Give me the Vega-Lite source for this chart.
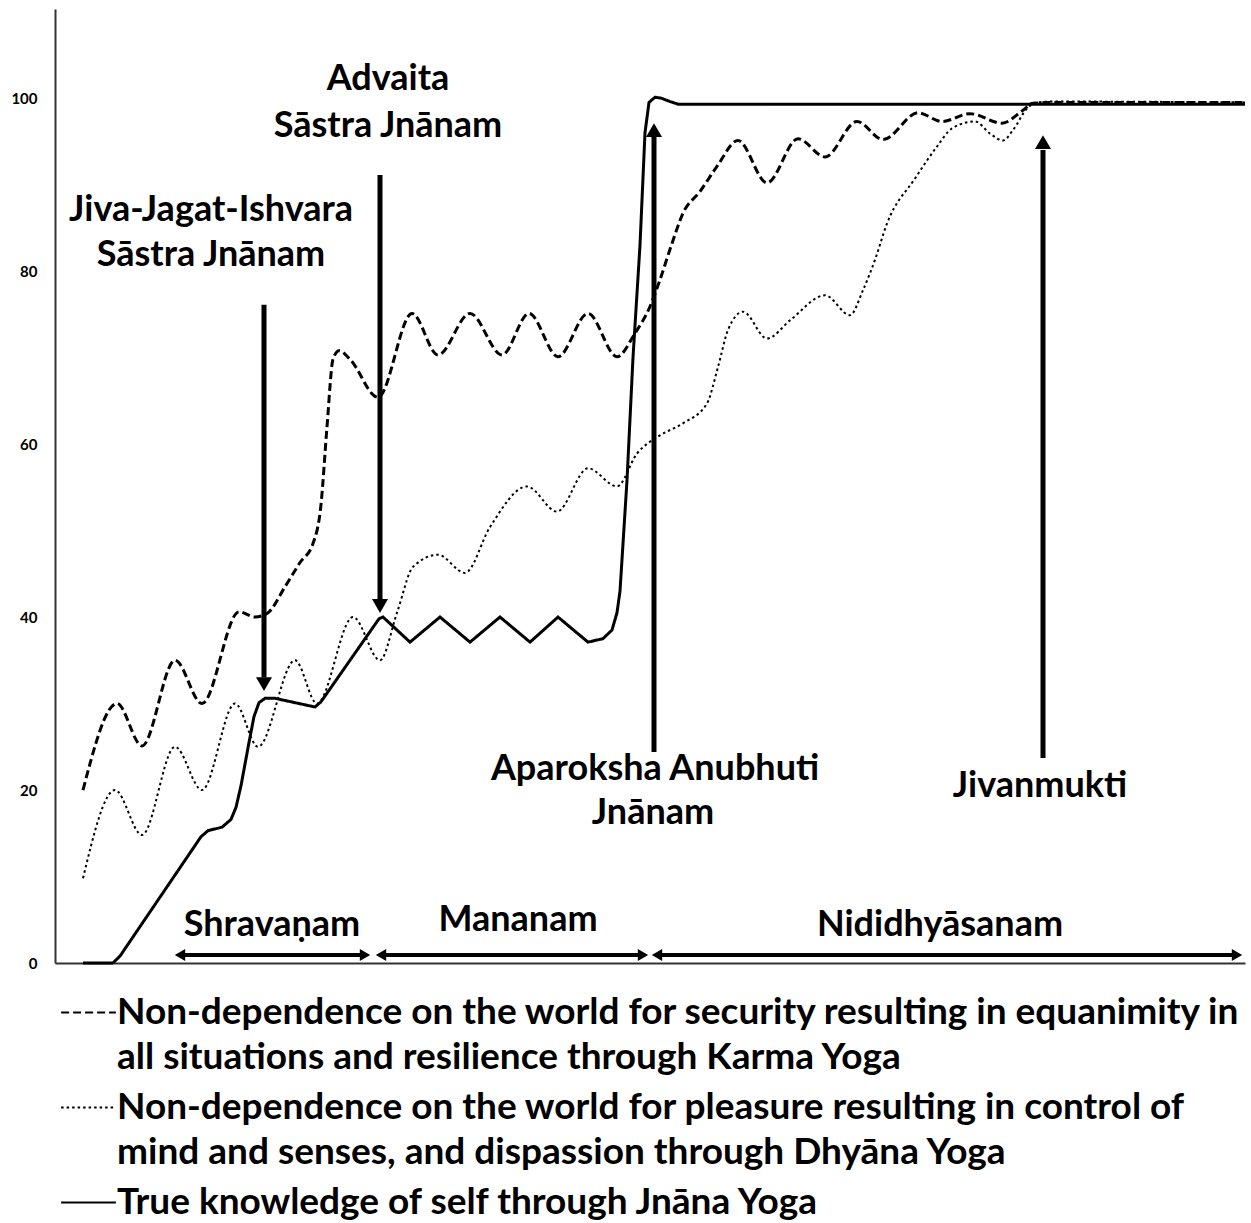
{
  "$schema": "https://vega.github.io/schema/vega-lite/v6.json",
  "autosize": "none",
  "width": 1190,
  "height": 954,
  "padding": {"left": 55, "top": 9, "right": 6, "bottom": 260},
  "background": "white",
  "config": {
    "view": {"stroke": null},
    "axisY": {"domainColor": "#333", "domainWidth": 2, "ticks": false, "grid": false, "labelFont": "Lato", "labelFontSize": 15, "labelFontWeight": "bold", "labelColor": "black", "labelPadding": 18, "title": null},
    "axisX": {"domainColor": "#333", "domainWidth": 2, "ticks": false, "grid": false, "labels": false, "title": null}
  },
  "datasets": {
    "curves": [
      {"series": "Karma", "x": 2.8, "y": 20},
      {"series": "Karma", "x": 6.2, "y": 30},
      {"series": "Karma", "x": 8.7, "y": 25.1},
      {"series": "Karma", "x": 12.0, "y": 35},
      {"series": "Karma", "x": 14.7, "y": 30},
      {"series": "Karma", "x": 18.4, "y": 40.6},
      {"series": "Karma", "x": 20.0, "y": 40.0},
      {"series": "Karma", "x": 21.2, "y": 40.4},
      {"series": "Karma", "x": 23.0, "y": 43.5},
      {"series": "Karma", "x": 24.5, "y": 46.3},
      {"series": "Karma", "x": 25.8, "y": 48.5},
      {"series": "Karma", "x": 26.6, "y": 53},
      {"series": "Karma", "x": 27.2, "y": 62},
      {"series": "Karma", "x": 27.8, "y": 69.8},
      {"series": "Karma", "x": 28.4, "y": 70.8},
      {"series": "Karma", "x": 29.5, "y": 69.8},
      {"series": "Karma", "x": 32.3, "y": 65.4},
      {"series": "Karma", "x": 35.7, "y": 75.1},
      {"series": "Karma", "x": 38.3, "y": 70.3},
      {"series": "Karma", "x": 41.5, "y": 75.1},
      {"series": "Karma", "x": 44.7, "y": 70.3},
      {"series": "Karma", "x": 47.4, "y": 75.1},
      {"series": "Karma", "x": 50.3, "y": 70.1},
      {"series": "Karma", "x": 53.3, "y": 75.1},
      {"series": "Karma", "x": 56.2, "y": 70.1},
      {"series": "Karma", "x": 58.0, "y": 72.8},
      {"series": "Karma", "x": 59.5, "y": 75.9},
      {"series": "Karma", "x": 60.5, "y": 79.0},
      {"series": "Karma", "x": 61.7, "y": 83.2},
      {"series": "Karma", "x": 62.8, "y": 86.7},
      {"series": "Karma", "x": 64.5, "y": 89.2},
      {"series": "Karma", "x": 66.2, "y": 92.1},
      {"series": "Karma", "x": 68.3, "y": 95.1},
      {"series": "Karma", "x": 71.2, "y": 90.2},
      {"series": "Karma", "x": 74.3, "y": 95.3},
      {"series": "Karma", "x": 77.0, "y": 93.2},
      {"series": "Karma", "x": 80.2, "y": 97.3},
      {"series": "Karma", "x": 82.8, "y": 95.2},
      {"series": "Karma", "x": 86.3, "y": 98.3},
      {"series": "Karma", "x": 88.7, "y": 97.3},
      {"series": "Karma", "x": 91.5, "y": 98.2},
      {"series": "Karma", "x": 94.7, "y": 97.1},
      {"series": "Karma", "x": 96.8, "y": 98.6},
      {"series": "Karma", "x": 97.8, "y": 99.4},
      {"series": "Karma", "x": 100, "y": 99.5},
      {"series": "Karma", "x": 119, "y": 99.5},
      {"series": "Dhyana", "x": 2.8, "y": 9.8},
      {"series": "Dhyana", "x": 6.0, "y": 20},
      {"series": "Dhyana", "x": 8.7, "y": 14.8},
      {"series": "Dhyana", "x": 12.0, "y": 25},
      {"series": "Dhyana", "x": 14.7, "y": 20},
      {"series": "Dhyana", "x": 18.0, "y": 30},
      {"series": "Dhyana", "x": 20.3, "y": 25},
      {"series": "Dhyana", "x": 24.0, "y": 35},
      {"series": "Dhyana", "x": 26.2, "y": 30},
      {"series": "Dhyana", "x": 29.8, "y": 40},
      {"series": "Dhyana", "x": 32.5, "y": 35},
      {"series": "Dhyana", "x": 34.2, "y": 40.5},
      {"series": "Dhyana", "x": 35.8, "y": 45.8},
      {"series": "Dhyana", "x": 38.3, "y": 47.2},
      {"series": "Dhyana", "x": 41.0, "y": 45.1},
      {"series": "Dhyana", "x": 43.5, "y": 50.4},
      {"series": "Dhyana", "x": 47.2, "y": 55.1},
      {"series": "Dhyana", "x": 50.2, "y": 52.2},
      {"series": "Dhyana", "x": 53.3, "y": 57.2},
      {"series": "Dhyana", "x": 56.2, "y": 55.1},
      {"series": "Dhyana", "x": 58.2, "y": 58.9},
      {"series": "Dhyana", "x": 60.5, "y": 61.0},
      {"series": "Dhyana", "x": 62.8, "y": 62.4},
      {"series": "Dhyana", "x": 65.2, "y": 64.7},
      {"series": "Dhyana", "x": 66.3, "y": 68.9},
      {"series": "Dhyana", "x": 67.3, "y": 73.2},
      {"series": "Dhyana", "x": 68.8, "y": 75.3},
      {"series": "Dhyana", "x": 71.2, "y": 72.2},
      {"series": "Dhyana", "x": 73.5, "y": 74.3},
      {"series": "Dhyana", "x": 77.0, "y": 77.2},
      {"series": "Dhyana", "x": 79.5, "y": 74.9},
      {"series": "Dhyana", "x": 80.8, "y": 77.8},
      {"series": "Dhyana", "x": 82.0, "y": 81.3},
      {"series": "Dhyana", "x": 83.2, "y": 85.5},
      {"series": "Dhyana", "x": 86.0, "y": 90.7},
      {"series": "Dhyana", "x": 88.2, "y": 94.4},
      {"series": "Dhyana", "x": 89.7, "y": 96.5},
      {"series": "Dhyana", "x": 92.0, "y": 97.3},
      {"series": "Dhyana", "x": 93.5, "y": 95.9},
      {"series": "Dhyana", "x": 94.8, "y": 95.1},
      {"series": "Dhyana", "x": 95.8, "y": 96.3},
      {"series": "Dhyana", "x": 97.2, "y": 98.8},
      {"series": "Dhyana", "x": 98.2, "y": 99.5},
      {"series": "Dhyana", "x": 100, "y": 99.6},
      {"series": "Dhyana", "x": 119, "y": 99.5},
      {"series": "Jnana", "x": 2.8, "y": 0},
      {"series": "Jnana", "x": 5.8, "y": 0},
      {"series": "Jnana", "x": 6.5, "y": 0.8},
      {"series": "Jnana", "x": 14.6, "y": 14.6},
      {"series": "Jnana", "x": 15.3, "y": 15.3},
      {"series": "Jnana", "x": 16.7, "y": 15.7},
      {"series": "Jnana", "x": 17.6, "y": 16.6},
      {"series": "Jnana", "x": 18.1, "y": 18},
      {"series": "Jnana", "x": 18.6, "y": 20.5},
      {"series": "Jnana", "x": 19.4, "y": 25.5},
      {"series": "Jnana", "x": 19.9, "y": 28.5},
      {"series": "Jnana", "x": 20.4, "y": 30.1},
      {"series": "Jnana", "x": 21.0, "y": 30.6},
      {"series": "Jnana", "x": 22.0, "y": 30.6},
      {"series": "Jnana", "x": 26.0, "y": 29.6},
      {"series": "Jnana", "x": 26.6, "y": 30.2},
      {"series": "Jnana", "x": 32.4, "y": 39.8},
      {"series": "Jnana", "x": 32.8, "y": 40.0},
      {"series": "Jnana", "x": 35.5, "y": 37.1},
      {"series": "Jnana", "x": 38.5, "y": 40},
      {"series": "Jnana", "x": 41.5, "y": 37.1},
      {"series": "Jnana", "x": 44.5, "y": 40},
      {"series": "Jnana", "x": 47.5, "y": 37.1},
      {"series": "Jnana", "x": 50.3, "y": 40},
      {"series": "Jnana", "x": 53.3, "y": 37.1},
      {"series": "Jnana", "x": 54.8, "y": 37.5},
      {"series": "Jnana", "x": 55.7, "y": 38.5},
      {"series": "Jnana", "x": 56.2, "y": 40.5},
      {"series": "Jnana", "x": 56.5, "y": 43},
      {"series": "Jnana", "x": 57.2, "y": 55.8},
      {"series": "Jnana", "x": 57.8, "y": 70},
      {"series": "Jnana", "x": 58.5, "y": 83},
      {"series": "Jnana", "x": 59.0, "y": 96},
      {"series": "Jnana", "x": 59.4, "y": 99.5},
      {"series": "Jnana", "x": 60.0, "y": 100.1},
      {"series": "Jnana", "x": 60.6, "y": 100.0},
      {"series": "Jnana", "x": 61.5, "y": 99.6},
      {"series": "Jnana", "x": 62.3, "y": 99.3},
      {"series": "Jnana", "x": 119, "y": 99.3}
    ],
    "arrows": [
      {"kind": "v", "x": 20.9, "y": 76.1, "x2": 20.9, "y2": 33.0},
      {"kind": "v", "x": 32.5, "y": 91.1, "x2": 32.5, "y2": 42.0},
      {"kind": "v", "x": 59.9, "y": 24.4, "x2": 59.9, "y2": 95.5},
      {"kind": "v", "x": 98.8, "y": 23.7, "x2": 98.8, "y2": 94.0},
      {"kind": "h", "x": 12.5, "y": 0.92, "x2": 31.0, "y2": 0.92},
      {"kind": "h", "x": 32.6, "y": 0.92, "x2": 58.8, "y2": 0.92},
      {"kind": "h", "x": 60.2, "y": 0.92, "x2": 118.2, "y2": 0.92}
    ],
    "heads": [
      {"kind": "v", "dir": "down", "x": 20.9, "y": 32.25},
      {"kind": "v", "dir": "down", "x": 32.5, "y": 41.27},
      {"kind": "v", "dir": "up", "x": 59.9, "y": 96.3},
      {"kind": "v", "dir": "up", "x": 98.8, "y": 94.9},
      {"kind": "h", "dir": "left", "x": 12.5, "y": 0.92},
      {"kind": "h", "dir": "right", "x": 31.0, "y": 0.92},
      {"kind": "h", "dir": "left", "x": 32.6, "y": 0.92},
      {"kind": "h", "dir": "right", "x": 58.8, "y": 0.92},
      {"kind": "h", "dir": "left", "x": 60.2, "y": 0.92},
      {"kind": "h", "dir": "right", "x": 118.2, "y": 0.92}
    ],
    "notes": [
      {"x": 15.6, "y": 85.8, "text": "Jiva-Jagat-Ishvara"},
      {"x": 15.6, "y": 80.6, "text": "Sāstra Jnānam"},
      {"x": 33.3, "y": 100.9, "text": "Advaita"},
      {"x": 33.3, "y": 95.5, "text": "Sāstra Jnānam"},
      {"x": 60.0, "y": 21.2, "text": "Aparoksha Anubhuti"},
      {"x": 59.8, "y": 16.1, "text": "Jnānam"},
      {"x": 98.5, "y": 19.2, "text": "Jivanmukti"},
      {"x": 21.7, "y": 3.1, "text": "Shravaṇam"},
      {"x": 46.3, "y": 3.7, "text": "Mananam"},
      {"x": 88.5, "y": 3.1, "text": "Nididhyāsanam"}
    ]
  },
  "layer": [
    {
      "data": {"name": "curves"},
      "transform": [{"filter": "datum.series == 'Karma'"}],
      "mark": {"type": "line", "interpolate": "monotone", "color": "black", "strokeWidth": 3},
      "encoding": {
        "x": {"field": "x", "type": "quantitative", "scale": {"domain": [0, 119], "nice": false, "zero": false}, "axis": {"labels": false, "ticks": false, "grid": false, "title": null}},
        "y": {"field": "y", "type": "quantitative", "scale": {"domain": [0, 110.3], "nice": false}, "axis": {"values": [0, 20, 40, 60, 80, 100], "title": null}},
        "strokeDash": {
          "field": "series", "type": "nominal",
          "scale": {"domain": ["Karma", "Dhyana", "Jnana"], "range": [[8, 4], [2.5, 3], [1, 0]]},
          "legend": {
            "orient": "none", "legendX": 5, "legendY": 975, "title": null, "direction": "vertical",
            "symbolType": "stroke", "symbolSize": 3000, "symbolStrokeWidth": 2, "symbolStrokeColor": "black",
            "labelFont": "Lato", "labelFontSize": 37, "labelFontWeight": "bold", "labelColor": "black", "labelLimit": 0, "labelOffset": 0, "rowPadding": 3, "padding": 0,
            "labelExpr": "datum.value == 'Karma' ? ['Non-dependence on the world for security resulting in equanimity in', 'all situations and resilience through Karma Yoga'] : datum.value == 'Dhyana' ? ['Non-dependence on the world for pleasure resulting in control of', 'mind and senses, and dispassion through Dhyāna Yoga'] : 'True knowledge of self through Jnāna Yoga'",
            "encode": {"labels": {"update": {"lineHeight": {"value": 45}}}}
          }
        }
      }
    },
    {
      "data": {"name": "curves"},
      "transform": [{"filter": "datum.series == 'Dhyana'"}],
      "mark": {"type": "line", "interpolate": "monotone", "color": "black", "strokeWidth": 2},
      "encoding": {
        "x": {"field": "x", "type": "quantitative"},
        "y": {"field": "y", "type": "quantitative"},
        "strokeDash": {"field": "series", "type": "nominal"}
      }
    },
    {
      "data": {"name": "curves"},
      "transform": [{"filter": "datum.series == 'Jnana'"}],
      "mark": {"type": "line", "interpolate": "linear", "color": "black", "strokeWidth": 3},
      "encoding": {
        "x": {"field": "x", "type": "quantitative"},
        "y": {"field": "y", "type": "quantitative"},
        "strokeDash": {"field": "series", "type": "nominal"}
      }
    },
    {
      "data": {"name": "arrows"},
      "transform": [{"filter": "datum.kind == 'v'"}],
      "mark": {"type": "rule", "color": "black", "strokeWidth": 5},
      "encoding": {
        "x": {"field": "x", "type": "quantitative"},
        "y": {"field": "y", "type": "quantitative"},
        "y2": {"field": "y2"}
      }
    },
    {
      "data": {"name": "arrows"},
      "transform": [{"filter": "datum.kind == 'h'"}],
      "mark": {"type": "rule", "color": "black", "strokeWidth": 4},
      "encoding": {
        "x": {"field": "x", "type": "quantitative"},
        "x2": {"field": "x2"},
        "y": {"field": "y", "type": "quantitative"}
      }
    },
    {
      "data": {"name": "heads"},
      "transform": [{"filter": "datum.kind == 'v'"}],
      "mark": {"type": "point", "filled": true, "color": "black", "opacity": 1, "size": 256},
      "encoding": {
        "x": {"field": "x", "type": "quantitative"},
        "y": {"field": "y", "type": "quantitative"},
        "shape": {"field": "dir", "type": "nominal", "scale": {"domain": ["down", "up", "left", "right"], "range": ["triangle-down", "triangle-up", "triangle-left", "triangle-right"]}, "legend": null}
      }
    },
    {
      "data": {"name": "heads"},
      "transform": [{"filter": "datum.kind == 'h'"}],
      "mark": {"type": "point", "filled": true, "color": "black", "opacity": 1, "size": 144},
      "encoding": {
        "x": {"field": "x", "type": "quantitative"},
        "y": {"field": "y", "type": "quantitative"},
        "shape": {"field": "dir", "type": "nominal", "legend": null}
      }
    },
    {
      "data": {"name": "notes"},
      "mark": {"type": "text", "font": "Lato", "fontSize": 36, "fontWeight": "bold", "color": "black", "align": "center", "baseline": "alphabetic"},
      "encoding": {
        "x": {"field": "x", "type": "quantitative"},
        "y": {"field": "y", "type": "quantitative"},
        "text": {"field": "text"}
      }
    }
  ]
}
